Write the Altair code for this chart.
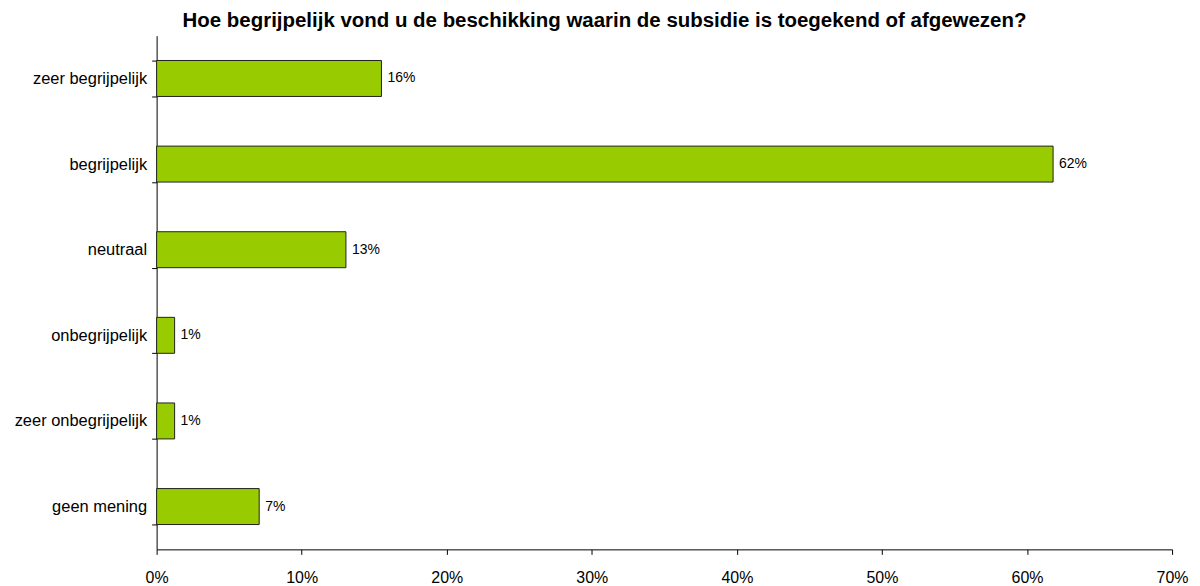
import altair as alt
import pandas as pd

categories = ["zeer begrijpelijk", "begrijpelijk", "neutraal", "onbegrijpelijk",
              "zeer onbegrijpelijk", "geen mening"]
values = [15.5, 61.8, 13.05, 1.24, 1.24, 7.07]
labels = ["16%", "62%", "13%", "1%", "1%", "7%"]
x_ticks = [0, 10, 20, 30, 40, 50, 60, 70]

df = pd.DataFrame({"cat": categories, "val": values, "lab": labels})

FONT = "Liberation Sans"

y_enc = alt.Y("cat:N", sort=categories, title=None,
              scale=alt.Scale(paddingInner=0.58, paddingOuter=0.29),
              axis=alt.Axis(tickBand="extent", labelFont=FONT, labelFontSize=16.5,
                            labelColor="black", labelPadding=5, tickSize=5,
                            tickColor="black", domainColor="black",
                            labelLimit=300))
x_enc = alt.X("val:Q", title=None,
              scale=alt.Scale(domain=[0, 70], nice=False),
              axis=alt.Axis(values=x_ticks, labelExpr="datum.value + '%'",
                            grid=False, labelFont=FONT, labelFontSize=16,
                            labelColor="black", tickSize=5, tickColor="black",
                            domainColor="black", labelPadding=15,
                            labelFlush=False))

bars = alt.Chart(df).mark_bar(color="#99CC00", stroke="#222222",
                              strokeWidth=1).encode(x=x_enc, y=y_enc)
text = alt.Chart(df).mark_text(align="left", baseline="middle", dx=6,
                               font=FONT, fontSize=14, color="black").encode(
    x="val:Q", y=alt.Y("cat:N", sort=categories), text="lab:N")

chart = (bars + text).properties(
    width=1018, height=515,
    title=alt.TitleParams(
        "Hoe begrijpelijk vond u de beschikking waarin de subsidie is toegekend of afgewezen?",
        font=FONT, fontSize=20.5, fontWeight="bold", color="black",
        anchor="middle", dx=-60, offset=-4),
    autosize=alt.AutoSizeParams(type="none"),
    padding={"left": 149, "top": 27, "right": 20, "bottom": 40},
).configure_view(stroke=None)

chart.save("out.html", embed_options={"renderer": "svg", "actions": False})
